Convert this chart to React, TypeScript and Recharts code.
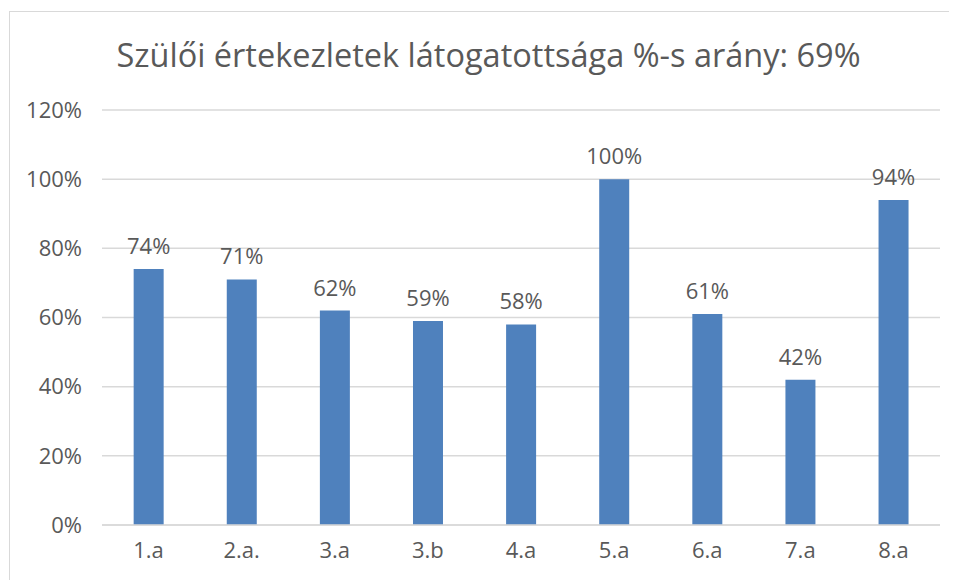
import React from 'react';
import { BarChart, Bar, XAxis, YAxis, CartesianGrid, LabelList } from 'recharts';

const classes = ['1.a', '2.a.', '3.a', '3.b', '4.a', '5.a', '6.a', '7.a', '8.a'];
const attendance = [74, 71, 62, 59, 58, 100, 61, 42, 94];
const yTicks = [0, 20, 40, 60, 80, 100, 120];

const chartTitle = 'Szülői értekezletek látogatottsága %-s arány: 69%';

const data = classes.map((name, i) => ({ name, value: attendance[i] }));

const FONT = '"Open Sans", "Noto Sans", sans-serif';
const TEXT = '#595959';

export default function App() {
  return (
    <div style={{ position: 'relative', width: 949, height: 572, fontFamily: FONT, overflow: 'hidden' }}>
      {/* chart frame, only top and left edge visible */}
      <div
        style={{
          position: 'absolute',
          left: 1,
          top: 3,
          width: 1000,
          height: 1000,
          borderTop: '1px solid #d9d9d9',
          borderLeft: '1px solid #d9d9d9',
        }}
      />
      <div
        style={{
          position: 'absolute',
          left: 0,
          width: 961,
          top: 25,
          textAlign: 'center',
          fontSize: 32.5,
          color: TEXT,
          lineHeight: '44px',
          whiteSpace: 'nowrap',
        }}
      >
        {chartTitle}
      </div>
      <BarChart
        width={949}
        height={572}
        data={data}
        margin={{ top: 102, right: 17, left: 0, bottom: 0 }}
        barCategoryGap="34%"
      >
        <CartesianGrid vertical={false} stroke="#d9d9d9" strokeWidth={1.5} />
        <XAxis
          dataKey="name"
          height={55}
          axisLine={{ stroke: '#d9d9d9', strokeWidth: 1.5 }}
          tickLine={false}
          tick={{ fill: TEXT, fontSize: 22, fontFamily: FONT }}
          tickMargin={11}
        />
        <YAxis
          width={94}
          domain={[0, 120]}
          ticks={yTicks}
          tickFormatter={(v: number) => `${v}%`}
          axisLine={false}
          tickLine={false}
          tick={{ fill: TEXT, fontSize: 22, fontFamily: FONT }}
          tickMargin={14}
        />
        <Bar dataKey="value" fill="#4f81bd" isAnimationActive={false}>
          <LabelList
            dataKey="value"
            position="top"
            offset={15}
            formatter={(v: number) => `${v}%`}
            style={{ fill: TEXT, fontSize: 22, fontFamily: FONT }}
          />
        </Bar>
      </BarChart>
    </div>
  );
}
